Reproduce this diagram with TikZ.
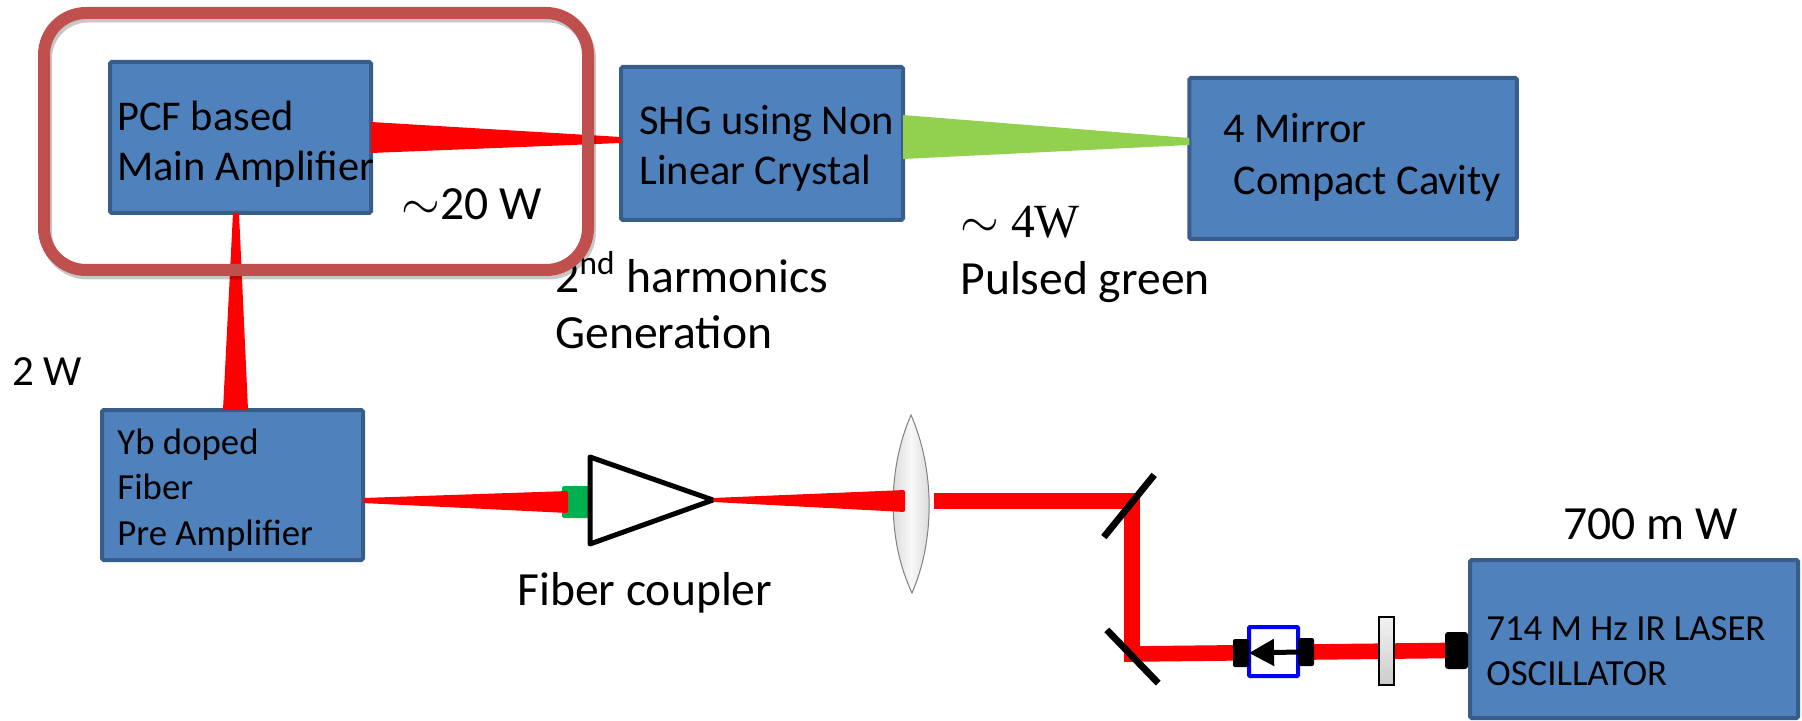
\documentclass[tikz,border=0pt]{standalone}
\usepackage{fontspec}
\setmainfont{Carlito}
\newfontfamily\wattfont{Liberation Serif}
\usetikzlibrary{arrows.meta}
\definecolor{boxfill}{HTML}{4F81BD}
\definecolor{boxline}{HTML}{385D8A}
\definecolor{ringred}{HTML}{C0504D}
\definecolor{beamgreen}{HTML}{92D050}
\definecolor{coupgreen}{HTML}{00B050}
\begin{document}
\begin{tikzpicture}[x=0.5pt,y=-0.5pt,
	main_box/.style={rectangle,fill=boxfill,draw=boxline,line width=2pt,rounded corners=0.8pt,outer sep=0pt,inner sep=0pt},
	main_text/.style={anchor=west,inner sep=0pt,align=left,font=\fontsize{21.2}{25}\selectfont},
	small_text/.style={anchor=west,inner sep=0pt,align=left,font=\fontsize{18.4}{22.8}\selectfont},
	plain_text/.style={anchor=west,inner sep=0pt,align=left,font=\fontsize{23.8}{28}\selectfont},
	beam_red/.style={fill=red,draw=none},
	beam_line/.style={draw=red,line width=7.8pt,line join=miter},
	mirror_bar/.style={rectangle,fill=black,minimum height=3.4pt,inner sep=0pt,outer sep=0pt},
	iso_cap/.style={rectangle,fill=black,rounded corners=1pt,inner sep=0pt,outer sep=0pt,minimum width=8pt,minimum height=14pt},
	ring_box/.style={rectangle,rounded corners=21pt,line width=6pt,minimum width=272pt,minimum height=128.5pt,inner sep=0pt,outer sep=0pt}]

	\useasboundingbox (0,0) rectangle (1802,721);

	\node[main_box,minimum width=130.5pt,minimum height=75.5pt] (pcf) at (240.5,137.5) {};
	\node[main_box,minimum width=141pt,minimum height=76.5pt] (shg) at (762,143.5) {};
	\node[main_box,minimum width=163.75pt,minimum height=80.5pt] (cavity) at (1353,158.5) {};
	\node[main_box,minimum width=130.5pt,minimum height=75pt] (yb) at (232.5,485) {};
	\node[main_box,minimum width=164pt,minimum height=79pt] (osc) at (1634,639) {};

	\node[main_text] (pcf_text) at (117,144) {PCF based\\Main Amplifier};
	\node[main_text] (shg_text) at (639,148) {SHG using Non\\Linear Crystal};
	\node[main_text] (cav_text1) at (1223,128) {4 Mirror};
	\node[main_text] (cav_text2) at (1233,183) {Compact Cavity};
	\node[small_text] (yb_text) at (117,490) {Yb doped\\Fiber\\Pre Amplifier};
	\node[small_text] (osc_text) at (1486,651) {714 M Hz IR LASER\\OSCILLATOR};

	\node[plain_text] (w20) at (401,204) {$\sim$20 W};
	\node[plain_text] (shg_label) at (555,300) {2\textsuperscript{nd} harmonics\\Generation};
	\node[plain_text] (w4) at (960,222) {\wattfont$\sim$ 4W};
	\node[plain_text] (green_label) at (960,282) {Pulsed green};
	\node[plain_text,font=\fontsize{21.5}{26}\selectfont] (w2) at (12,372) {2 W};
	\node[plain_text] (coup_label) at (517,593) {Fiber coupler};
	\node[plain_text] (mw700) at (1563,524) {700 m W};

	\fill[beam_red] ([yshift=7.75pt]pcf.east) -- ([yshift=-7.75pt]pcf.east) -- ([yshift=0.25pt]shg.west) -- ([yshift=3.25pt]shg.west) -- cycle;
	\fill[beam_red] ([xshift=-3.75pt]pcf.south) -- ([xshift=-0.75pt]pcf.south) -- ([xshift=7.75pt]yb.north) -- ([xshift=-4.75pt]yb.north) -- cycle;
	\fill[beamgreen] ([yshift=14.25pt]shg.east) -- ([yshift=-7.75pt]shg.east) -- ([yshift=6.75pt]cavity.west) -- ([yshift=10.25pt]cavity.west) -- cycle;

	\node[ring_box,draw=black,opacity=0.22] (ring_shadow) at (318,145) {};
	\node[ring_box,draw=ringred] (ring) at (316,141.5) {};

	\node[rectangle,fill=coupgreen,rounded corners=1pt,minimum width=14pt,minimum height=16pt,inner sep=0pt,outer sep=0pt] (coup_back) at (576,502) {};
	\coordinate (c_top) at (590,457);
	\coordinate (c_bot) at (590,544);
	\coordinate (c_tip) at (713,500);
	\coordinate (y_end) at (568,502);
	\fill[beam_red,rounded corners=1pt] ([yshift=-6.5pt]yb.east) -- ([yshift=-9pt]yb.east) -- ([yshift=-5.5pt]y_end) -- ([yshift=5.5pt]y_end) -- cycle;
	\draw[black,line width=2.5pt,line join=round,fill=white] (c_top) -- (c_tip) -- (c_bot) -- cycle;

	\draw[draw=gray,line width=0.5pt,left color=gray!35,right color=gray!35,middle color=gray!5] (911,415) .. controls (887,470) and (887,540) .. (912,593) .. controls (935,540) and (935,470) .. (911,415) -- cycle;
	\coordinate (l_end) at (905,501);
	\fill[beam_red,rounded corners=1pt] ([yshift=1pt]c_tip) -- ([yshift=5.5pt]l_end) -- ([yshift=-5.5pt]l_end) -- ([yshift=-1pt]c_tip) -- cycle;

	\coordinate (b_start) at (934,501);
	\coordinate (m_one) at (1132,501);
	\coordinate (m_two) at (1132,654);
	\node[rectangle,fill=black,rounded corners=1.5pt,minimum width=11.5pt,minimum height=18.5pt,inner sep=0pt,outer sep=0pt] (laser_cap) at (1456.5,650.5) {};
	\draw[beam_line] (b_start) -- (m_one) -- (m_two) -- (laser_cap.west);

	\node[mirror_bar,minimum width=40pt,rotate=51] (mirror1) at (1129,506) {};
	\node[mirror_bar,minimum width=37pt,rotate=-46] (mirror2) at (1132.5,656.5) {};

	\node[rectangle,draw=blue,fill=white,line width=2pt,rounded corners=0.5pt,minimum width=24.5pt,minimum height=24.5pt,inner sep=0pt,outer sep=0pt] (iso) at (1273.5,651.5) {};
	\node[iso_cap] (cap_l) at (1241,653) {};
	\node[iso_cap] (cap_r) at (1306,652) {};
	\draw[line width=2.5pt,-{Triangle[length=12.5pt,width=13pt]}] (cap_r.west) -- (cap_l.east);

	\node[rectangle,draw=black,line width=1pt,top color=gray!10,bottom color=gray!40,minimum width=7.5pt,minimum height=34pt,inner sep=0pt,outer sep=0pt] (plate) at (1386.5,651) {};
\end{tikzpicture}
\end{document}
